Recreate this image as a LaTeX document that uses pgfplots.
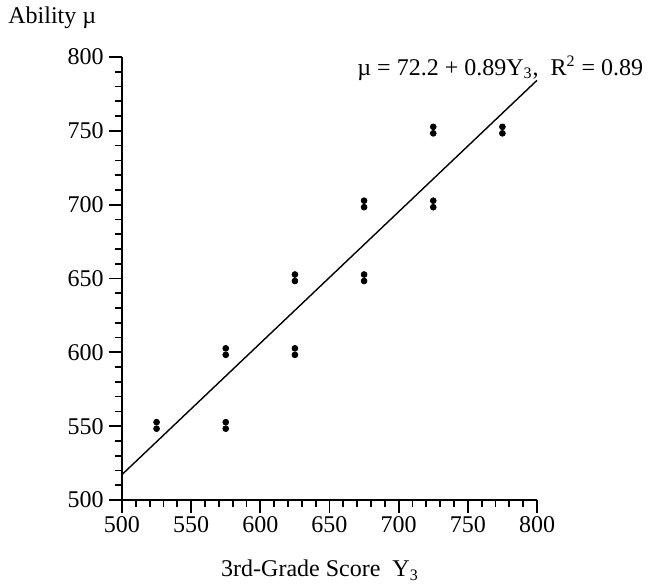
\documentclass[border=0pt]{standalone}
\usepackage{pgfplots}
\pgfplotsset{compat=1.18}
\usepackage{fontspec}
\setmainfont{Liberation Serif}
\begin{document}
\fontsize{12}{14}\selectfont
\begin{tikzpicture}
\path[use as bounding box] (-61pt,-44pt) rectangle (263.5pt,250pt);
\begin{axis}[
  at={(0,0)}, anchor=south west,
  scale only axis, width=207.5pt, height=221.5pt,
  xmin=500, xmax=800, ymin=500, ymax=800,
  axis x line*=bottom, axis y line*=left,
  axis line style={-, line width=0.85pt, black},
  xtick={500,550,...,800}, ytick={500,550,...,800},
  minor tick num=4,
  tick align=outside,
  major tick length=6.5pt, minor tick length=3.5pt,
  every tick/.style={black, line width=0.85pt},
  /pgf/number format/assume math mode=true,
  /pgf/number format/set thousands separator={},
  tick label style={font=\fontsize{12}{14}\selectfont},
  xticklabel style={yshift=2.5pt},
  yticklabel style={xshift=1.5pt},
  clip=false,
]
\addplot[only marks, mark=*, mark size=1.45pt, black] coordinates {
  (525,552.7) (525,548.3)
  (575,552.7) (575,548.3)
  (575,602.7) (575,598.3)
  (625,602.7) (625,598.3)
  (625,652.7) (625,648.3)
  (675,652.7) (675,648.3)
  (675,702.7) (675,698.3)
  (725,702.7) (725,698.3)
  (725,752.7) (725,748.3)
  (775,752.7) (775,748.3)
};
\addplot[black, line width=0.7pt] coordinates {(500,517.2) (800,784.2)};
\end{axis}
\node[anchor=west, inner sep=0pt] at (-57pt,241pt) {Ability \textmu};
\node[inner sep=0pt] at (99pt,-35pt) {3rd-Grade Score\ \ Y\textsubscript{3}};
\node[anchor=west, inner sep=0pt] at (117.5pt,216pt) {\textmu\ = 72.2 + 0.89Y\textsubscript{3},\ \ R\textsuperscript{2} = 0.89};
\end{tikzpicture}
\end{document}
